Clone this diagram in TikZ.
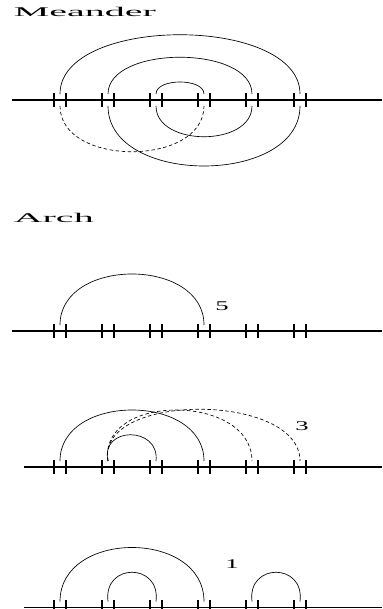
\documentclass[tikz,border=0pt]{standalone}
\usepackage{fontspec}
\setmainfont{Liberation Serif}
\usetikzlibrary{calc}
\tikzset{
  axis/.style={line width=0.9pt},
  tick/.style={line width=1.5pt},
  loopline/.style={line width=0.5pt},
  hidden/.style={loopline,dash pattern=on 2.6pt off 1.9pt},
  heading/.style={inner sep=0pt,xscale=3,transform shape,anchor=base west},
  tally/.style={inner sep=0pt,xscale=2,transform shape},
}

\begin{document}
\begin{tikzpicture}[x=0.75pt,y=0.75pt,font=\fontsize{10}{12}\selectfont]
  \useasboundingbox (0,0) rectangle (382,609);
  \clip (0,0) rectangle (382,609);

  % four strands with six tick pairs each
  \foreach \row/\y/\xs in {m/509/12, a/278/12, b/142/24, c/1.5/24} {
    \coordinate (\row-start) at (\xs,\y);
    \coordinate (\row-end) at (382,\y);
    \draw[axis] (\row-start) -- (\row-end);
    \foreach \i in {1,...,6} {
      \coordinate (\row\i-t) at ({12+48*\i},\y+6);
      \coordinate (\row\i-b) at ({12+48*\i},\y-6);
      \draw[tick] ({6+48*\i},\y-7) -- ++(0,14);
      \draw[tick] ({18+48*\i},\y-7) -- ++(0,14);
    }
  }

  \node[heading] (meander) at (13,592) {Meander};
  \node[heading] (arch)    at (13,386) {Arch};

  % meander
  \draw[loopline] (m1-t) .. controls +(0,79) and +(0,79) .. (m6-t);
  \draw[loopline] (m2-t) .. controls +(0,49) and +(0,49) .. (m5-t);
  \draw[loopline] (m3-t) .. controls +(0,16) and +(0,16) .. (m4-t);
  \draw[hidden]   (m1-b) .. controls +(0,-61) and +(0,-61) .. (m4-b);
  \draw[loopline] (m2-b) .. controls +(0,-80) and +(0,-80) .. (m6-b);
  \draw[loopline] (m3-b) .. controls +(0,-41) and +(0,-41) .. (m5-b);

  % arch, 5
  \draw[loopline] (a1-t) .. controls +(0,68) and +(0,68) .. (a4-t);
  \node[tally] (five) at (222,303) {5};

  % arch, 3
  \draw[loopline] (b1-t) .. controls +(0,68) and +(0,68) .. (b4-t);
  \draw[loopline] (b2-t) .. controls +(-8,35) and +(4,35) .. (b3-t);
  \draw[hidden]   (b2-t) .. controls +(-10,68) and +(0,68) .. (b5-t);
  \draw[hidden]   (b2-t) .. controls +(-12,69) and +(0,69) .. (b6-t);
  \node[tally] (three) at (302,183) {3};

  % arch, 1
  \draw[loopline] (c1-t) .. controls +(0,72) and +(0,72) .. (c4-t);
  \draw[loopline] (c2-t) .. controls +(-5,39) and +(5,39) .. (c3-t);
  \draw[loopline] (c5-t) .. controls +(-5,39) and +(5,39) .. (c6-t);
  \node[tally] (one) at (232,45) {1};
\end{tikzpicture}
\end{document}
